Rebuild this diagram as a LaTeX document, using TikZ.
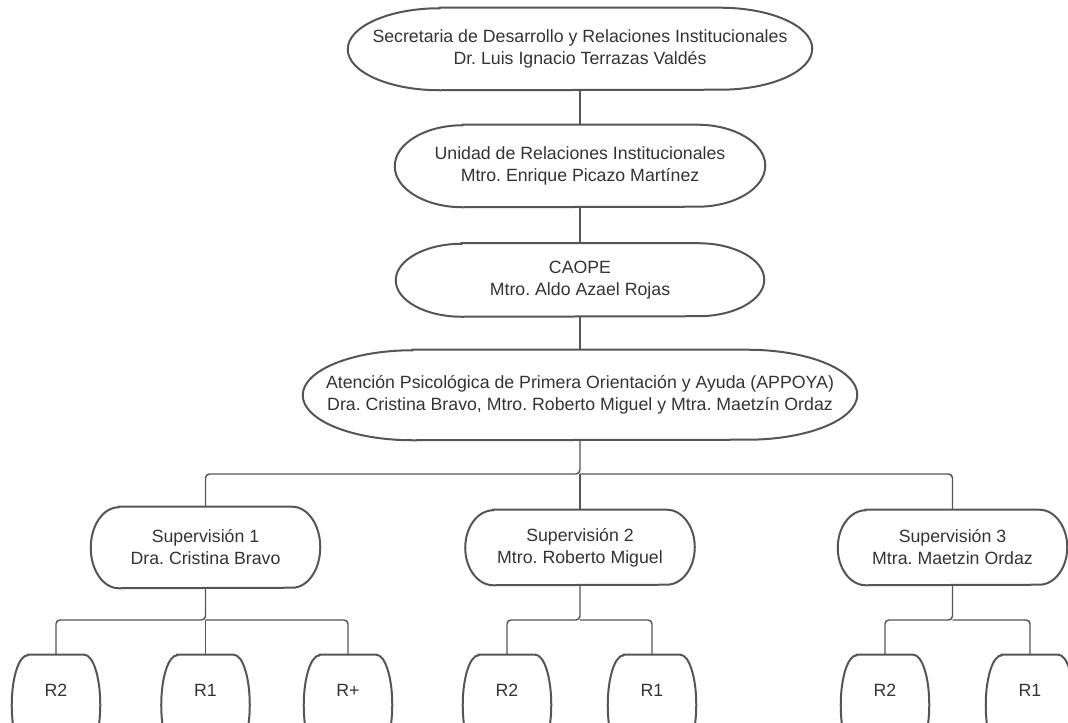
\documentclass[tikz,border=0pt]{standalone}
\usepackage{fontspec}
\setmainfont{Liberation Sans}
\usepackage{xcolor}
\definecolor{trazo}{HTML}{555555}
\definecolor{texto}{HTML}{333333}
\tikzset{
  caja/.style={inner sep=0pt, align=center, text=texto, font=\fontsize{13.3}{16.4}\selectfont},
  hoja/.style={caja, minimum width=66pt, minimum height=75pt, text depth=22pt},
  borde/.style={draw=trazo, line width=1.5pt},
  conector/.style={draw=trazo, line width=1.1pt, rounded corners=3pt},
}
\frenchspacing

\begin{document}
\begin{tikzpicture}[x=0.75pt, y=0.75pt]
  \useasboundingbox (0,0) rectangle (1068,723);

  \node (sec) at (580,674) [caja, minimum width=348pt, minimum height=61.5pt] {Secretaria de Desarrollo y Relaciones Institucionales\\Dr. Luis Ignacio Terrazas Valdés};
  \node (uri) at (580,557) [caja, minimum width=277.5pt, minimum height=61.5pt] {Unidad de Relaciones Institucionales\\Mtro. Enrique Picazo Martínez};
  \node (caope) at (580,443) [caja, minimum width=276pt, minimum height=54.75pt] {CAOPE\\Mtro. Aldo Azael Rojas};
  \node (appoya) at (580,328) [caja, minimum width=415.5pt, minimum height=67.5pt] {Atención Psicológica de Primera Orientación y Ayuda (APPOYA)\\Dra. Cristina Bravo, Mtro. Roberto Miguel y Mtra. Maetzín Ordaz};

  \node (sup1) at (205.5,175.5) [caja, minimum width=171.75pt, minimum height=60.75pt] {Supervisión 1\\Dra. Cristina Bravo};
  \node (sup2) at (580,175.5) [caja, minimum width=171.75pt, minimum height=56.25pt] {Supervisión 2\\Mtro. Roberto Miguel};
  \node (sup3) at (952.5,175.5) [caja, minimum width=171.75pt, minimum height=56.25pt] {Supervisión 3\\Mtra. Maetzin Ordaz};

  \node (r12) at (56,18) [hoja] {R2};
  \node (r11) at (205.5,18) [hoja] {R1};
  \node (r1m) at (348,18) [hoja] {R+};
  \node (r22) at (507,18) [hoja] {R2};
  \node (r21) at (652,18) [hoja] {R1};
  \node (r32) at (885,18) [hoja] {R2};
  \node (r31) at (1030,18) [hoja] {R1};

  \foreach \nodo/\prof/\alto in {sec/92/41, uri/68/41, caope/66/36.5, appoya/110/45,
      sup1/28/40.5, sup2/28/37.5, sup3/28/37.5,
      r12/16/50, r11/16/50, r1m/16/50, r22/16/50, r21/16/50, r32/16/50, r31/16/50}
    \draw[borde] ([xshift=0.75pt*\prof]\nodo.north west) -- ([xshift=-0.75pt*\prof]\nodo.north east)
      arc[start angle=90, end angle=-90, x radius=\prof, y radius=\alto]
      -- ([xshift=0.75pt*\prof]\nodo.south west)
      arc[start angle=270, end angle=90, x radius=\prof, y radius=\alto] -- cycle;

  \coordinate (ramal) at (580,249);
  \coordinate (ramal1) at (205.5,103);
  \coordinate (ramal2) at (580,103);
  \coordinate (ramal3) at (952.5,103);

  \draw[conector] (sec) -- (uri);
  \draw[conector] (uri) -- (caope);
  \draw[conector] (caope) -- (appoya);

  \draw[conector] (appoya) -- (ramal) -| (sup1);
  \draw[conector] (ramal) -- (sup2);
  \draw[conector] (ramal) -| (sup3);

  \draw[conector] (sup1) -- (ramal1) -| (r12);
  \draw[conector] (ramal1) -- (r11);
  \draw[conector] (ramal1) -| (r1m);
  \draw[conector] (sup2) -- (ramal2) -| (r22);
  \draw[conector] (ramal2) -| (r21);
  \draw[conector] (sup3) -- (ramal3) -| (r32);
  \draw[conector] (ramal3) -| (r31);
\end{tikzpicture}
\end{document}
